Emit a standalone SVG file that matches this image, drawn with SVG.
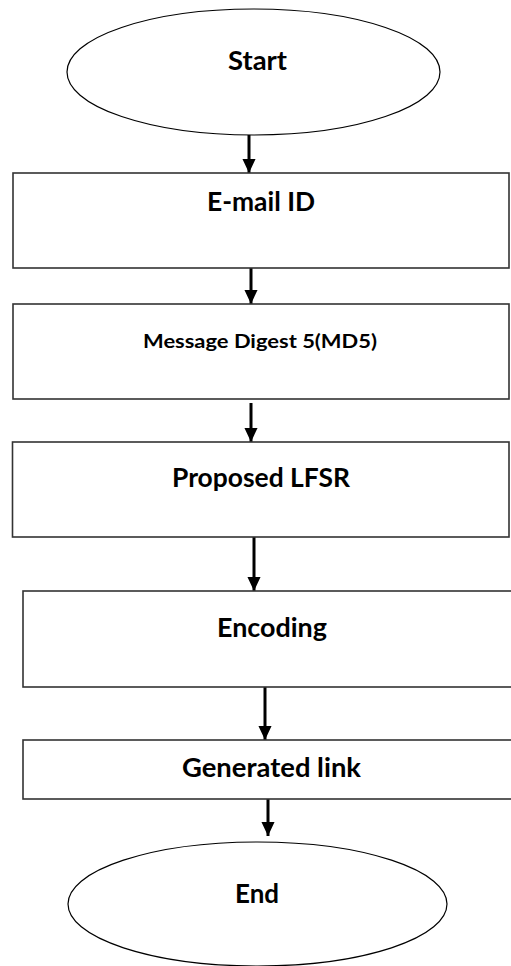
<svg xmlns="http://www.w3.org/2000/svg" width="511" height="966" viewBox="0 0 511 966">
  <defs>
    <marker id="head" markerUnits="userSpaceOnUse" markerWidth="14" markerHeight="16" refX="15" refY="7" orient="auto" viewBox="0 0 15 14">
      <path d="M0,0 L15,7 L0,14 Z" fill="#000"/>
    </marker>
    <style>
      .term { fill: #fff; stroke: #000; stroke-width: 1.2; }
      .box { fill: #fff; stroke: #333; stroke-width: 1.6; }
      .lbl { font-family: "Lato", "Open Sans", "Liberation Sans", sans-serif; font-weight: bold; fill: #000; text-anchor: middle; }
      .big { font-size: 26px; }
      .small { font-size: 18px; }
      .flow { stroke: #000; stroke-width: 3; fill: none; marker-end: url(#head); }
    </style>
  </defs>

  <g id="connectors">
    <line class="flow" x1="249" y1="135" x2="249" y2="173"/>
    <line class="flow" x1="251" y1="268" x2="251" y2="304"/>
    <line class="flow" x1="251" y1="403" x2="251" y2="442"/>
    <line class="flow" x1="254" y1="537" x2="254" y2="591"/>
    <line class="flow" x1="265" y1="687" x2="265" y2="740"/>
    <line class="flow" x1="268" y1="799" x2="268" y2="836"/>
  </g>

  <g id="start">
    <ellipse class="term" cx="253.5" cy="72" rx="186.5" ry="63"/>
    <text class="lbl big" x="257.5" y="70" textLength="59" lengthAdjust="spacingAndGlyphs">Start</text>
  </g>

  <g id="email-id">
    <rect class="box" x="13" y="173" width="496" height="95"/>
    <text class="lbl big" x="261" y="211" textLength="108" lengthAdjust="spacingAndGlyphs">E-mail ID</text>
  </g>

  <g id="md5">
    <rect class="box" x="13" y="304" width="496" height="95"/>
    <text class="lbl small" x="260" y="348" textLength="234" lengthAdjust="spacingAndGlyphs">Message Digest 5(MD5)</text>
  </g>

  <g id="lfsr">
    <rect class="box" x="12.5" y="442" width="496.5" height="95"/>
    <text class="lbl big" x="261" y="487" textLength="178" lengthAdjust="spacingAndGlyphs">Proposed LFSR</text>
  </g>

  <g id="encoding">
    <rect class="box" x="23" y="591" width="500" height="96"/>
    <text class="lbl big" x="272" y="637" textLength="110" lengthAdjust="spacingAndGlyphs">Encoding</text>
  </g>

  <g id="generated-link">
    <rect class="box" x="23" y="740" width="500" height="59"/>
    <text class="lbl big" x="271.5" y="777" textLength="179" lengthAdjust="spacingAndGlyphs">Generated link</text>
  </g>

  <g id="end">
    <ellipse class="term" cx="257.5" cy="904" rx="189.5" ry="62"/>
    <text class="lbl big" x="257" y="903" textLength="44" lengthAdjust="spacingAndGlyphs">End</text>
  </g>
</svg>
